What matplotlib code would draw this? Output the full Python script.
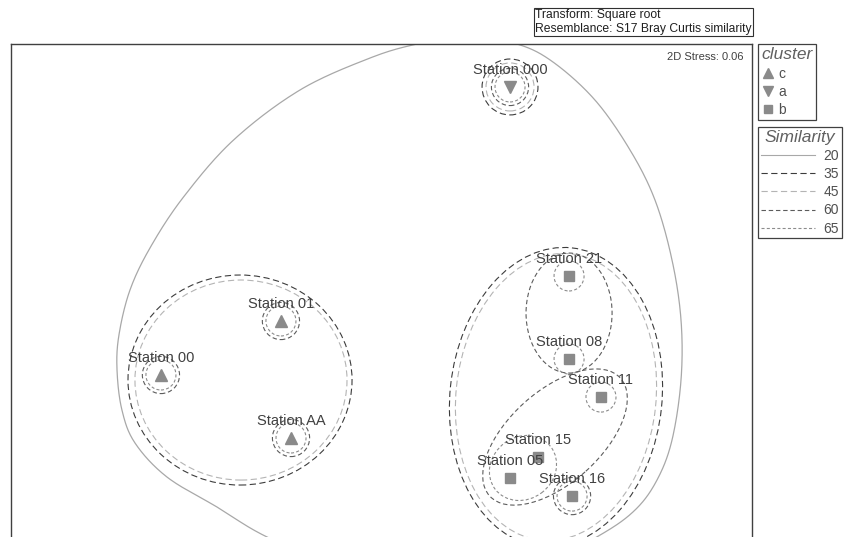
import numpy as np
import matplotlib
matplotlib.use('Agg')
import matplotlib.pyplot as plt
from matplotlib.patches import Ellipse, Circle
from matplotlib.lines import Line2D

plt.rcParams['font.family'] = ['Liberation Sans', 'DejaVu Sans']
plt.rcParams['lines.scale_dashes'] = False

# --- nMDS ordination (sqrt transform, Bray-Curtis) ---
stations = ['Station 000', 'Station 01', 'Station 00', 'Station AA', 'Station 21',
            'Station 08', 'Station 11', 'Station 15', 'Station 05', 'Station 16']
mds_x = [1.071, -0.838, -1.838, -0.754, 1.563, 1.563, 1.829, 1.304, 1.071, 1.588]
mds_y = [1.692, -0.258, -0.708, -1.233, 0.117, -0.575, -0.892, -1.392, -1.567, -1.717]
cluster = ['a', 'c', 'c', 'c', 'b', 'b', 'b', 'b', 'b', 'b']
stress = 0.06

# similarity levels of the cluster overlay
levels = [20, 35, 45, 60, 65]

# stations that stand alone at a given similarity level (drawn as circles)
single_35 = ['Station 000']
single_45 = ['Station 000']
single_60 = ['Station 000', 'Station 01', 'Station 00', 'Station AA', 'Station 16']
single_65 = ['Station 000', 'Station 01', 'Station 00', 'Station AA', 'Station 21',
             'Station 08', 'Station 11', 'Station 16']

grp_level = [35, 45, 35, 45, 60, 60, 65]
grp_cx = [-1.179, -1.171, 1.454, 1.454, 1.563, 1.446, 1.179]
grp_cy = [-0.75, -0.75, -0.892, -0.892, -0.192, -1.225, -1.483]
grp_w = [1.867, 1.767, 1.767, 1.667, 0.717, 1.467, 0.583]
grp_h = [1.75, 1.667, 2.5, 2.4, 1.0, 0.767, 0.517]
grp_angle = [0, 0, -6, -6, 0, 42, 37]

# outline of the 20% group (all stations)
sim20_x = [0.713, 1.129, 1.429, 1.779, 2.071, 2.279, 2.421, 2.496, 2.496, 2.421,
           2.296, 2.113, 1.821, 1.321, 0.571, -0.263, -0.954, -1.371, -1.788, -2.054,
           -2.163, -2.204, -2.188, -2.096, -1.925, -1.650, -1.233, -0.679, -0.096, 0.296]
sim20_y = [2.117, 2.05, 1.9, 1.583, 1.167, 0.75, 0.25, -0.25, -0.75, -1.25,
           -1.583, -1.833, -2.042, -2.292, -2.458, -2.350, -2.058, -1.808, -1.558, -1.275,
           -1.0, -0.667, -0.375, 0.0, 0.358, 0.775, 1.250, 1.667, 1.933, 2.05]

# styles
lvl_color = {20: '#a8a8a8', 35: '#3c3c3c', 45: '#b4b4b4', 60: '#5c5c5c', 65: '#8c8c8c'}
lvl_dash = {20: '-', 35: (0, (4.5, 2.5)), 45: (0, (4.5, 2.5)), 60: (0, (3.2, 2.0)),
            65: (0, (2.2, 1.6))}
lvl_radius = {35: 0.233, 45: 0.2, 60: 0.155, 65: 0.125}
marker_of = {'c': '^', 'a': 'v', 'b': 's'}
msize = {'c': 8.5, 'a': 8.5, 'b': 6.5}
grey = '#8a8a8a'
txt = '#404040'


def closed_spline(px, py, n=24):
    P = np.column_stack([px, py])
    m = len(P)
    t = np.linspace(0, 1, n, endpoint=False)[:, None]
    segs = []
    for i in range(m):
        p0, p1, p2, p3 = P[i - 1], P[i], P[(i + 1) % m], P[(i + 2) % m]
        segs.append(0.5 * (2 * p1 + (-p0 + p2) * t + (2 * p0 - 5 * p1 + 4 * p2 - p3) * t ** 2
                           + (-p0 + 3 * p1 - 3 * p2 + p3) * t ** 3))
    out = np.vstack(segs)
    return np.vstack([out, out[:1]])


fig = plt.figure(figsize=(8.45, 5.37), dpi=100)
ax = fig.add_axes([11 / 845, 0, 741 / 845, 493 / 537])
ax.set_xlim(-3.0875, 3.0875)
ax.set_ylim(-2.058, 2.05)
ax.set_xticks([])
ax.set_yticks([])
for s in ['left', 'top', 'right']:
    ax.spines[s].set_color('#404040')
    ax.spines[s].set_linewidth(1.0)
ax.spines['bottom'].set_visible(False)

# 20% contour
c20 = closed_spline(sim20_x, sim20_y)
ax.plot(c20[:, 0], c20[:, 1], color=lvl_color[20], lw=0.9, ls='-')

# grouped outlines
for lv, cx, cy, w, h, a in zip(grp_level, grp_cx, grp_cy, grp_w, grp_h, grp_angle):
    ax.add_patch(Ellipse((cx, cy), w, h, angle=a, fill=False, ec=lvl_color[lv],
                         ls=lvl_dash[lv], lw=0.8))

# single station circles
for lv, members in zip([35, 45, 60, 65], [single_35, single_45, single_60, single_65]):
    for name in members:
        i = stations.index(name)
        ax.add_patch(Circle((mds_x[i], mds_y[i]), lvl_radius[lv], fill=False,
                            ec=lvl_color[lv], ls=lvl_dash[lv], lw=0.8))

# points and labels
for k in ['c', 'a', 'b']:
    xs = [x for x, c in zip(mds_x, cluster) if c == k]
    ys = [y for y, c in zip(mds_y, cluster) if c == k]
    ax.plot(xs, ys, ls='', marker=marker_of[k], ms=msize[k], color=grey, mec=grey, zorder=5)
for name, x, y in zip(stations, mds_x, mds_y):
    ax.annotate(name, (x, y), xytext=(0, 12.5), textcoords='offset points',
                ha='center', va='center', fontsize=10.5, color=txt, zorder=6)

ax.text(0.989, 0.974, f'2D Stress: {stress:.2f}', transform=ax.transAxes,
        ha='right', va='center', fontsize=8, color=txt)

fig.text(535 / 845, 1 - 9 / 537, 'Transform: Square root\nResemblance: S17 Bray Curtis similarity',
         ha='left', va='top', fontsize=8.7, color='#202020', linespacing=1.2,
         bbox=dict(boxstyle='square,pad=0.12', fc='white', ec='#303030', lw=0.8))

# legends
h1 = [Line2D([], [], ls='', marker=marker_of[k], ms=msize[k] - 1, color=grey) for k in ['c', 'a', 'b']]
leg1 = fig.legend(h1, ['c', 'a', 'b'], title='cluster', loc='upper left',
                  bbox_to_anchor=(758 / 845, 1 - 44 / 537), fontsize=10,
                  title_fontproperties={'style': 'italic', 'size': 12.5},
                  handletextpad=0.2, borderpad=0.25, labelspacing=0.3, handlelength=1.0,
                  borderaxespad=0, fancybox=False, edgecolor='#404040', framealpha=1)
leg1.get_title().set_color('#606060')
leg1._legend_box.align = 'left'
for t in leg1.get_texts():
    t.set_color('#505050')
leg1.get_frame().set_linewidth(0.9)

h2 = [Line2D([], [], color=lvl_color[lv], ls=lvl_dash[lv], lw=0.8) for lv in levels]
leg2 = fig.legend(h2, [str(lv) for lv in levels], title='Similarity', loc='upper left',
                  bbox_to_anchor=(758 / 845, 1 - 127 / 537), fontsize=10,
                  title_fontproperties={'style': 'italic', 'size': 12.5},
                  handletextpad=0.6, borderpad=0.2, labelspacing=0.3, handlelength=3.9,
                  borderaxespad=0, fancybox=False, edgecolor='#404040', framealpha=1)
leg2.get_title().set_color('#606060')
for t in leg2.get_texts():
    t.set_color('#505050')
leg2.get_frame().set_linewidth(0.9)

fig.savefig('out.png', dpi=100)
